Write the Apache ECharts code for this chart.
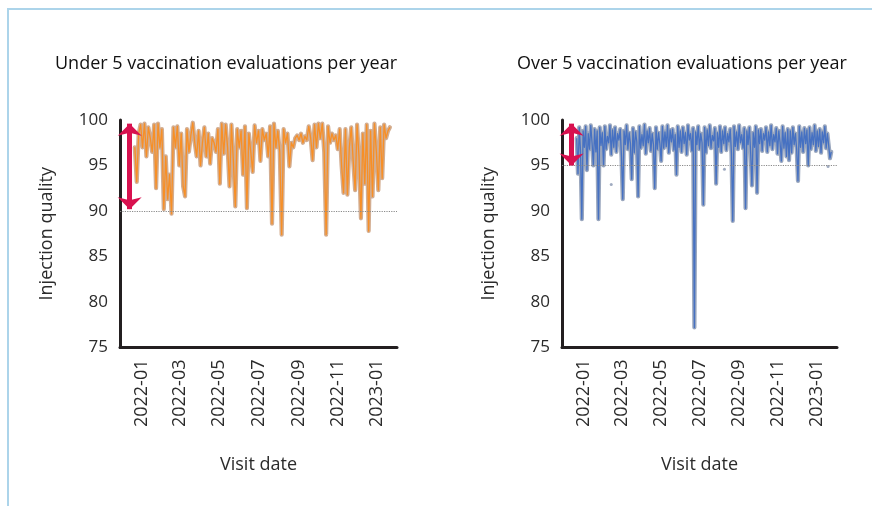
<!DOCTYPE html>
<html>
<head>
<meta charset="utf-8">
<script src="https://cdn.jsdelivr.net/npm/echarts@6/dist/echarts.min.js"></script>
<style>
  html, body { margin: 0; padding: 0; background: #fff; }
  #frame {
    position: absolute; left: 7px; top: 8px; width: 880px; height: 520px;
    border-top: 2px solid #acd4ea; border-left: 2px solid #acd4ea;
  }
  #chart { position: absolute; left: 0; top: 0; width: 872px; height: 506px; }
</style>
</head>
<body>
<div id="frame"></div>
<div id="chart"></div>
<script>
// ---- data ----
const titles = ['Under 5 vaccination evaluations per year', 'Over 5 vaccination evaluations per year'];
const yName = 'Injection quality';
const xName = 'Visit date';
const xMin = '2021-11-28';
const xMax = '2023-02-01';
const tickMonths = ['2022-01', '2022-03', '2022-05', '2022-07', '2022-09', '2022-11', '2023-01'];
const yMin = 75, yMax = 100, yInterval = 5;

// under 5 evaluations: one value every 3 days from 2021-12-21
const leftStart = '2021-12-21';
const leftStepDays = 3;
const leftValues = [
  97.0, 93.2, 98.5, 99.5, 97.0, 99.6, 96.0, 99.2, 98.0, 96.5,
  99.5, 92.5, 99.6, 97.0, 99.0, 90.2, 96.0, 91.3, 94.0, 89.7,
  99.2, 97.0, 99.3, 95.0, 98.5, 92.7, 91.6, 99.0, 96.5, 98.3,
  99.7, 97.5, 96.0, 98.8, 95.0, 97.5, 99.2, 96.0, 98.5, 95.2,
  98.0, 97.5, 96.5, 99.0, 93.0, 99.6, 96.3, 99.5, 97.0, 92.7,
  99.5, 95.5, 90.5, 99.0, 97.0, 98.8, 94.0, 99.3, 90.3, 98.5,
  96.5, 94.3, 99.4, 97.5, 98.8, 95.5, 99.0, 97.8, 98.5, 96.0,
  99.3, 88.6, 99.6, 97.0, 98.8, 96.5, 87.4, 99.0, 97.5, 98.5,
  94.9, 97.5, 97.0, 98.0, 98.3, 97.8, 98.5, 97.5, 98.2, 97.8,
  99.3, 98.0, 95.6, 99.5, 97.0, 99.6, 98.0, 99.6, 96.5, 87.4,
  99.3, 97.5, 98.5, 97.8, 98.3, 96.8, 99.0, 95.0, 92.0, 99.0,
  91.8, 97.0, 99.2, 95.5, 92.3, 99.5, 96.0, 89.2, 98.5, 93.0,
  99.5, 87.8, 98.8, 91.6, 99.6, 96.5, 92.3, 99.2, 93.6, 99.5,
  98.0, 98.8, 99.2
];
const leftTarget = 90;
const leftArrow = [99.6, 90.2];

// over 5 evaluations: one value every 2 days from 2021-12-21
const rightStart = '2021-12-21';
const rightStepDays = 2;
const rightValues = [
  98.0, 94.1, 99.2, 96.5, 89.1, 98.8, 97.0, 99.3, 94.5, 98.5,
  96.8, 99.4, 97.5, 95.0, 99.0, 96.5, 98.8, 89.1, 99.2, 97.2,
  98.6, 95.0, 99.3, 96.8, 98.2, 97.5, 99.4, 96.2, 98.9, 97.0,
  99.2, 96.5, 98.5, 97.8, 99.0, 96.0, 91.3, 98.8, 97.3, 99.4,
  96.8, 98.6, 97.4, 93.5, 99.1, 96.4, 98.7, 97.6, 91.6, 99.3,
  96.9, 98.4, 97.2, 99.5, 96.3, 98.8, 97.5, 99.1, 96.6, 98.5,
  97.3, 92.5, 99.2, 96.8, 98.6, 97.4, 95.5, 99.3, 96.9, 98.7,
  97.1, 99.4, 96.4, 98.9, 97.6, 99.0, 96.7, 98.4, 94.0, 99.3,
  97.0, 98.8, 96.5, 99.2, 97.4, 98.6, 96.2, 99.4, 97.8, 98.5,
  96.6, 99.1, 77.2, 98.7, 97.3, 99.3, 96.8, 98.5, 97.5, 90.7,
  99.2, 96.4, 98.9, 97.2, 99.4, 96.9, 98.3, 97.7, 99.1, 93.0,
  98.6, 97.0, 99.3, 96.5, 98.8, 97.4, 99.2, 96.7, 98.5, 97.6,
  99.0, 96.3, 88.9, 99.3, 97.1, 98.7, 96.8, 99.4, 97.5, 98.4,
  96.9, 99.1, 90.3, 98.8, 97.3, 99.2, 96.4, 92.8, 98.6, 97.0,
  99.3, 92.0, 98.9, 97.4, 99.0, 96.6, 98.5, 97.8, 99.2, 96.5,
  98.7, 97.2, 99.4, 96.8, 98.4, 97.6, 99.1, 96.3, 98.8, 97.5,
  95.5, 99.3, 96.9, 98.6, 96.0, 99.0, 95.6, 98.8, 96.4, 99.2,
  97.3, 98.5, 96.7, 93.3, 99.3, 97.0, 98.7, 96.5, 99.1, 97.4,
  98.9, 95.0, 99.2, 96.8, 98.6, 97.3, 99.4, 96.6, 98.8, 97.1,
  99.0, 96.4, 98.7, 97.5, 99.3, 96.9, 98.5, 97.2, 95.8, 96.5
];
const rightOutliers = [['2022-02-13', 92.9], ['2022-08-09', 94.6], ['2023-01-18', 94.9]];
const rightTarget = 95;
const rightArrow = [99.6, 95.0];

const arrowDate = '2021-12-13';

// ---- helpers ----
const FONT = 'Open Sans';
const TEXT = '#2b2b2b';

function toTime(s) {
  const p = s.split('-').map(Number);
  return new Date(p[0], p[1] - 1, p[2] || 1).getTime();
}

function toSeriesData(start, step, values) {
  const p = start.split('-').map(Number);
  return values.map((v, i) => [new Date(p[0], p[1] - 1, p[2] + i * step).getTime(), v]);
}

function monthLabel(v) {
  const d = new Date(v);
  return d.getFullYear() + '-' + String(d.getMonth() + 1).padStart(2, '0');
}

// timestamps on a plain value axis, so the month ticks can be placed exactly
function xAxisFor(gridIndex) {
  return {
    type: 'value', gridIndex,
    min: toTime(xMin), max: toTime(xMax),
    name: xName, nameLocation: 'middle', nameGap: 108,
    nameTextStyle: { color: TEXT, fontSize: 18, fontFamily: FONT },
    axisLine: { lineStyle: { color: '#231f20', width: 3 } },
    axisTick: { show: false },
    splitLine: { show: false },
    axisLabel: {
      customValues: tickMonths.map(toTime),
      formatter: monthLabel,
      rotate: 90, margin: 12,
      color: TEXT, fontSize: 18, fontFamily: FONT,
    },
  };
}

function yAxisFor(gridIndex) {
  return {
    type: 'value', gridIndex,
    min: yMin, max: yMax, interval: yInterval,
    name: yName, nameLocation: 'middle', nameGap: 64,
    nameTextStyle: { color: TEXT, fontSize: 18, fontFamily: FONT },
    axisLine: { show: true, lineStyle: { color: '#231f20', width: 3 } },
    axisTick: { show: false },
    splitLine: { show: false },
    axisLabel: { margin: 12, color: TEXT, fontSize: 17, fontFamily: FONT },
  };
}

function seriesFor(idx, data, halo, stroke, target, arrow) {
  const at = toTime(arrowDate);
  return [
    {
      type: 'line', xAxisIndex: idx, yAxisIndex: idx,
      data, showSymbol: false, symbol: 'none',
      lineStyle: { color: halo, width: 4.2, join: 'round', cap: 'round' },
      markLine: {
        silent: true, symbol: 'none', animation: false,
        label: { show: false },
        lineStyle: { color: '#8a8a8a', type: 'dotted', width: 1.2 },
        data: [{ yAxis: target }],
      },
    },
    {
      type: 'line', xAxisIndex: idx, yAxisIndex: idx,
      data, showSymbol: false, symbol: 'none',
      lineStyle: { color: stroke, width: 1.3, join: 'round' },
      markLine: {
        silent: true, symbol: ['arrow', 'arrow'], symbolSize: [18, 12], animation: false,
        label: { show: false },
        lineStyle: { color: '#d8114f', type: 'solid', width: 5 },
        data: [[{ coord: [at, arrow[0]] }, { coord: [at, arrow[1]] }]],
      },
    },
  ];
}

const chart = echarts.init(document.getElementById('chart'), null, { renderer: 'canvas' });

const rightScatter = rightOutliers.map(o => [toTime(o[0]), o[1]]);

chart.setOption({
  backgroundColor: 'transparent',
  animation: false,
  title: [
    { text: titles[0], left: 50, top: 50, textStyle: { color: '#111', fontSize: 18, fontWeight: 'normal', fontFamily: FONT } },
    { text: titles[1], left: 512, top: 50, textStyle: { color: '#111', fontSize: 18, fontWeight: 'normal', fontFamily: FONT } },
  ],
  grid: [
    { left: 120, top: 120, width: 277, height: 227.5 },
    { left: 562, top: 120, width: 275, height: 227.5 },
  ],
  xAxis: [xAxisFor(0), xAxisFor(1)],
  yAxis: [yAxisFor(0), yAxisFor(1)],
  series: [
    ...seriesFor(0, toSeriesData(leftStart, leftStepDays, leftValues), '#d3ad90', '#f78f26', leftTarget, leftArrow),
    ...seriesFor(1, toSeriesData(rightStart, rightStepDays, rightValues), '#9aa7be', '#4671c2', rightTarget, rightArrow),
    {
      type: 'scatter', xAxisIndex: 1, yAxisIndex: 1,
      data: rightScatter, symbolSize: 3,
      itemStyle: { color: '#8896b0' },
    },
  ],
});
</script>
</body>
</html>
